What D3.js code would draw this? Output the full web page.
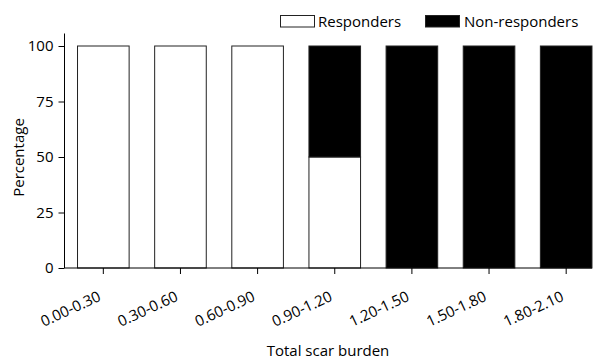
<!DOCTYPE html>
<html><head><meta charset="utf-8">
<script src="https://cdn.jsdelivr.net/npm/d3@7"></script>
<style>body{margin:0;background:#fff}text{font-family:"Open Sans","Noto Sans",sans-serif;fill:#000}</style>
</head><body><svg id="c" width="602" height="359"></svg>
<script>
const categories = ["0.00-0.30","0.30-0.60","0.60-0.90","0.90-1.20","1.20-1.50","1.50-1.80","1.80-2.10"];
const responders = [100,100,100,50,0,0,0];
const nonResponders = [0,0,0,50,100,100,100];
const yTicks = [0,25,50,75,100];
const seriesNames = ["Responders","Non-responders"];
const seriesColors = ["#fff","#000"];

const svg = d3.select("#c");
const x = d3.scaleBand().domain(categories).range([64.75,604.75]).paddingInner(0.331).paddingOuter(0.1655);
const y = d3.scaleLinear().domain([0,100]).range([268,46]);

const data = categories.map((c,i)=>({cat:c, Responders:responders[i], "Non-responders":nonResponders[i]}));
const stack = d3.stack().keys(seriesNames)(data);

stack.forEach((s,si)=>{
  svg.append("g").selectAll("rect").data(s).join("rect")
    .attr("x",d=>x(d.data.cat)).attr("width",x.bandwidth())
    .attr("y",d=>y(d[1])).attr("height",d=>y(d[0])-y(d[1]))
    .attr("fill",seriesColors[si]).attr("stroke","#222").attr("stroke-width",1);
});

// y axis
const ya = svg.append("g").attr("transform","translate(64.5,0)")
  .call(d3.axisLeft(y).tickValues(yTicks).tickSize(6).tickPadding(5));
ya.select(".domain").remove();
ya.append("line").attr("x1",0).attr("x2",0).attr("y1",33.5).attr("y2",268).attr("stroke","#000");
ya.selectAll("text").style("font-size","15px").attr("fill","#000");

// x axis
const xa = svg.append("g").attr("transform","translate(0,268)")
  .call(d3.axisBottom(x).tickSize(6).tickSizeOuter(0));
xa.select(".domain").remove();
xa.append("line").attr("x1",64.5).attr("x2",592).attr("y1",0).attr("y2",0).attr("stroke","#000");
xa.selectAll(".tick text").style("font-size","15px").attr("fill","#000")
  .attr("text-anchor","end").attr("dy",null).attr("y",0)
  .attr("transform","translate(-1.5,32) rotate(-25)");

svg.append("text").attr("x",328).attr("y",356).attr("text-anchor","middle").style("font-size","15px").text("Total scar burden");
svg.append("text").attr("transform","translate(24,157.5) rotate(-90)").attr("text-anchor","middle").style("font-size","15px").text("Percentage");

// legend
const leg = [{x:280,tx:318},{x:425,tx:464}];
seriesNames.forEach((n,i)=>{
  svg.append("rect").attr("x",leg[i].x+0.5).attr("y",15.5).attr("width",34).attr("height",11.5)
    .attr("fill",seriesColors[i]).attr("stroke","#222");
  svg.append("text").attr("x",leg[i].tx).attr("y",26.5).style("font-size","15px").text(n);
});
</script></body></html>
